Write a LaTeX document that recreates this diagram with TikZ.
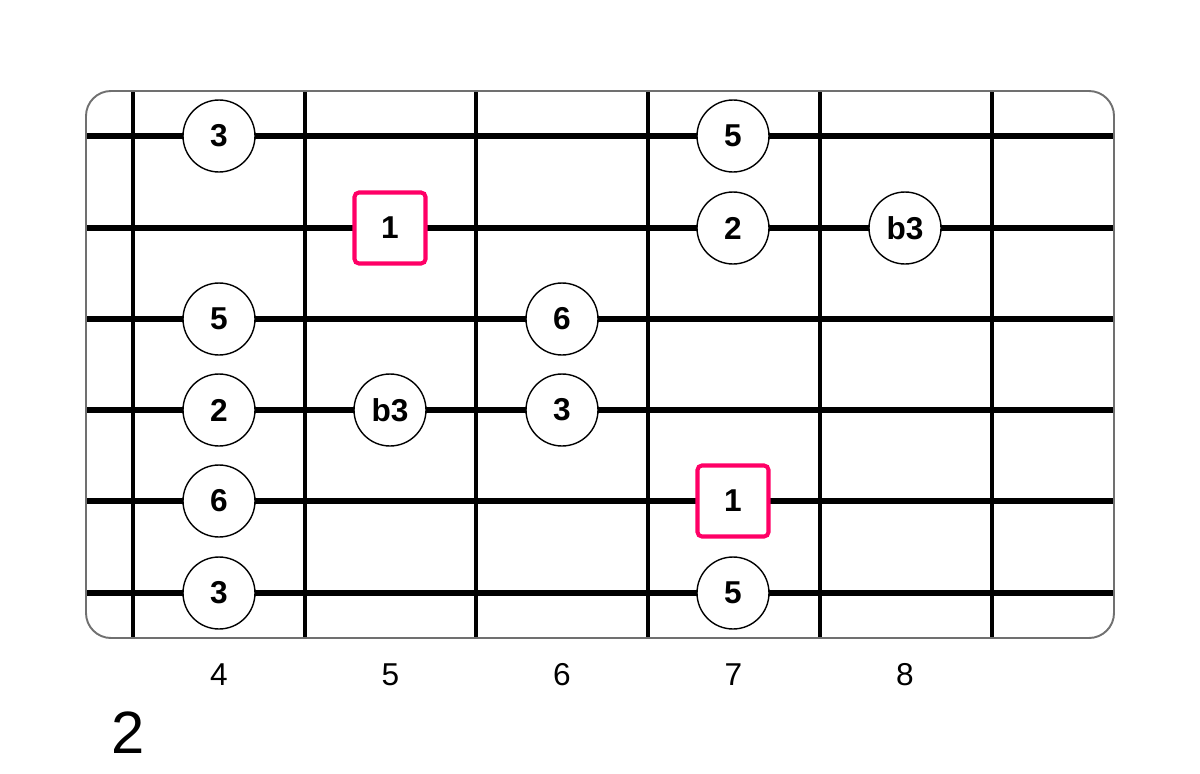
\documentclass[tikz,border=0pt]{standalone}
\usepackage{fontspec}
\setmainfont{Liberation Sans}
\usepackage{tikz}
\usetikzlibrary{positioning}
\definecolor{rootred}{RGB}{255,0,102}
\definecolor{framegray}{RGB}{112,112,112}

\tikzset{
  note/.style={circle, draw=black, line width=0.8pt, fill=white, minimum size=1.44cm, inner sep=0pt, font=\fontsize{18}{20}\selectfont\bfseries},
  root/.style={rectangle, rounded corners=2.5pt, draw=rootred, line width=2.3pt, fill=white, minimum size=1.42cm, inner sep=0pt, font=\fontsize{18}{20}\selectfont\bfseries},
  fretnum/.style={font=\fontsize{18}{20}\selectfont},
  fret/.style={line width=1.9pt},
  gtstring/.style={line width=3.4pt}
}

\begin{document}
\begin{tikzpicture}[x=0.02cm,y=-0.02cm]
\useasboundingbox (0,0) rectangle (1200,774);
% frets
\draw[fret] (133,91) -- (133,638);
\draw[fret] (305,91) -- (305,638);
\draw[fret] (476,91) -- (476,638);
\draw[fret] (648,91) -- (648,638);
\draw[fret] (820,91) -- (820,638);
\draw[fret] (992,91) -- (992,638);
% strings
\draw[gtstring] (86,136) -- (1114,136);
\draw[gtstring] (86,228) -- (1114,228);
\draw[gtstring] (86,319) -- (1114,319);
\draw[gtstring] (86,410) -- (1114,410);
\draw[gtstring] (86,501) -- (1114,501);
\draw[gtstring] (86,593) -- (1114,593);
\draw[framegray, line width=1.1pt, rounded corners=0.5cm] (86,91) rectangle (1114,638);
% fret 4
\node[note] (f4s1) at (219,136) {3};
\node[note] (f4s3) at (219,319) {5};
\node[note] (f4s4) at (219,410) {2};
\node[note] (f4s5) at (219,501) {6};
\node[note] (f4s6) at (219,593) {3};
% fret 5
\node[root] (f5s2) at (390,228) {1};
\node[note] (f5s4) at (390,410) {b3};
% fret 6
\node[note] (f6s3) at (562,319) {6};
\node[note] (f6s4) at (562,410) {3};
% fret 7
\node[note] (f7s1) at (733,136) {5};
\node[note] (f7s2) at (733,228) {2};
\node[root] (f7s5) at (733,501) {1};
\node[note] (f7s6) at (733,593) {5};
% fret 8
\node[note] (f8s2) at (905,228) {b3};
% fret numbers
\node[fretnum] (num4) at (219,675) {4};
\node[fretnum, right=3.43cm of num4.center, anchor=center] (num5) {5};
\node[fretnum, right=3.43cm of num5.center, anchor=center] (num6) {6};
\node[fretnum, right=3.43cm of num6.center, anchor=center] (num7) {7};
\node[fretnum, right=3.43cm of num7.center, anchor=center] (num8) {8};
\node[font=\fontsize{34}{36}\selectfont] (pos) at (128,733) {2};
\end{tikzpicture}
\end{document}
